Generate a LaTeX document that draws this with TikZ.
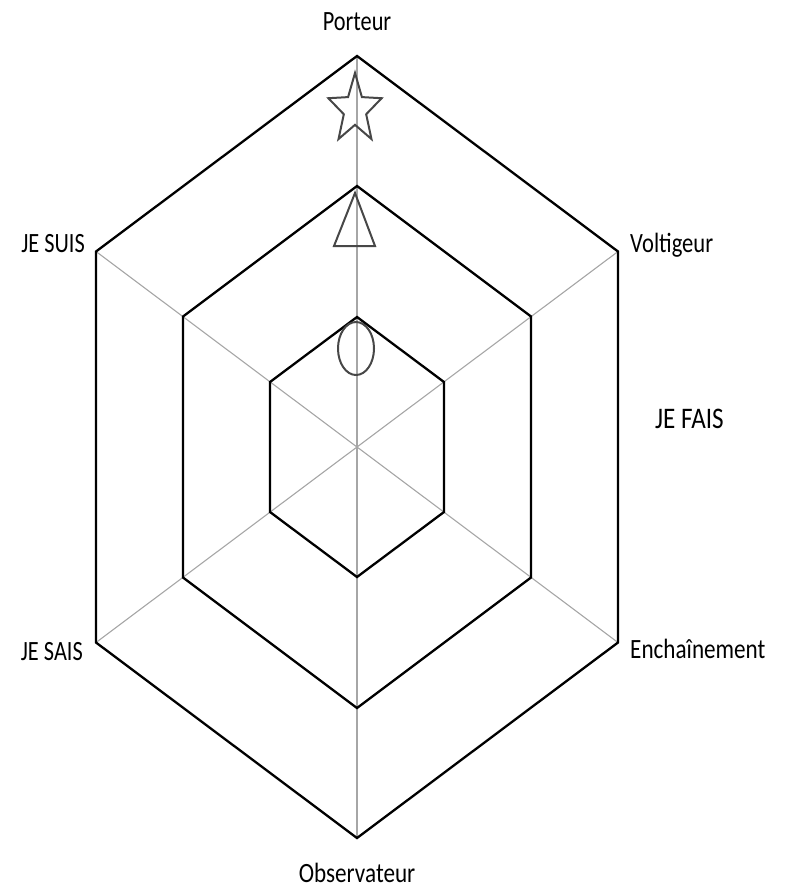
\documentclass[tikz,border=0pt]{standalone}
\usepackage{fontspec}
\setmainfont{Carlito}
\begin{document}
\begin{tikzpicture}[x=1bp,y=-1bp,
  hexline/.style={draw=black, line width=2.3bp, line join=miter},
  spoke/.style={draw=black!35, line width=1.1bp},
  symb/.style={draw=black!72, line width=2bp, line join=miter},
  lbl/.style={font=\fontsize{28}{32}\selectfont, inner sep=0pt},
  biglbl/.style={font=\fontsize{30}{34}\selectfont, inner sep=0pt}]
\useasboundingbox (0,0) rectangle (789,889);
\coordinate (C) at (357,447);
\foreach \k/\r/\w in {1/130/87, 2/261/174, 3/391/261}{
  \coordinate (T\k)  at (357,{447-\r});
  \coordinate (UR\k) at ({357+\w},{447-\r/2});
  \coordinate (LR\k) at ({357+\w},{447+\r/2});
  \coordinate (B\k)  at (357,{447+\r});
  \coordinate (LL\k) at ({357-\w},{447+\r/2});
  \coordinate (UL\k) at ({357-\w},{447-\r/2});
}
% spokes
\draw[spoke] (C) -- (T3);
\draw[spoke] (C) -- (UR3);
\draw[spoke] (C) -- (LR3);
\draw[spoke] (C) -- (B3);
\draw[spoke] (C) -- (LL3);
\draw[spoke] (C) -- (UL3);
% hexagons
\foreach \k in {1,2,3}{
  \draw[hexline] (T\k) -- (UR\k) -- (LR\k) -- (B\k) -- (LL\k) -- (UL\k) -- cycle;
}
% symbols
\begin{scope}[shift={(355,109.5)}, x=28bp, y=36.5bp]
  \draw[symb] (90:1) -- (126:0.42) -- (162:1) -- (198:0.42) -- (234:1)
    -- (270:0.42) -- (306:1) -- (342:0.42) -- (18:1) -- (54:0.42) -- cycle;
\end{scope}
\coordinate (TA) at (355,193);
\coordinate (TB) at (375,246);
\coordinate (TC) at (334,246);
\draw[symb] (TA) -- (TB) -- (TC) -- cycle;
\draw[symb] (356,348.5) ellipse [x radius=18, y radius=26.5];
% labels
\node[lbl, anchor=base] (porteur) at (357,30) {\scalebox{0.8}[1]{Porteur}};
\node[lbl, anchor=base east] (suis) at (85,252) {\scalebox{0.8}[1]{JE SUIS}};
\node[lbl, anchor=base west] (voltigeur) at (630,252) {\scalebox{0.81}[1]{Voltigeur}};
\node[biglbl, anchor=base west] (fais) at (655,428) {\scalebox{0.84}[1]{JE FAIS}};
\node[lbl, anchor=base east] (sais) at (83,660) {\scalebox{0.8}[1]{JE SAIS}};
\node[lbl, anchor=base west] (enchainement) at (630,658) {\scalebox{0.83}[1]{Enchaînement}};
\node[lbl, anchor=base] (observateur) at (357,882) {\scalebox{0.83}[1]{Observateur}};
\end{tikzpicture}
\end{document}
